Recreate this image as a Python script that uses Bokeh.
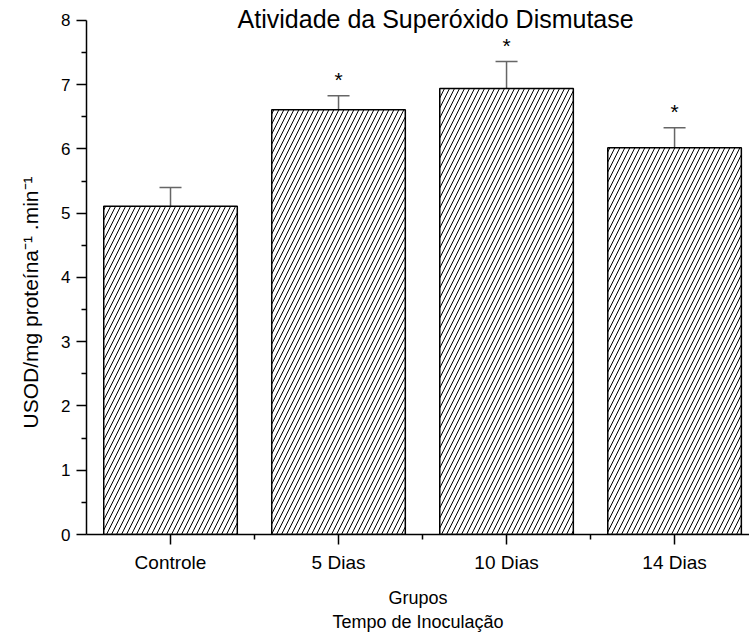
from bokeh.plotting import figure
from bokeh.models import Range1d, FixedTicker, Whisker, TeeHead, ColumnDataSource, Label
from bokeh.core.properties import value
from bokeh.embed import file_html
from bokeh.resources import INLINE

categories = ["Controle", "5 Dias", "10 Dias", "14 Dias"]
means = [5.11, 6.61, 6.94, 6.02]
errors = [0.29, 0.22, 0.42, 0.31]
significant = ["", "*", "*", "*"]

xs = [i + 1 for i in range(len(categories))]
src = ColumnDataSource(dict(
    x=xs, top=means,
    upper=[m + e for m, e in zip(means, errors)],
    star=significant,
    star_y=[m + e + 0.07 for m, e in zip(means, errors)],
))

FONT = "Liberation Sans"

p = figure(width=749, height=634, output_backend="svg", toolbar_location=None,
           x_range=Range1d(0.5, 4.446), y_range=Range1d(0, 8.311),
           min_border_left=86, min_border_right=0, min_border_top=0, min_border_bottom=100)
p.outline_line_color = None
p.grid.visible = False
p.background_fill_color = "white"

p.vbar(x="x", top="top", width=0.795, source=src, fill_color="white", line_color="black",
       line_width=1.5, hatch_pattern="/", hatch_color="black", hatch_scale=10, hatch_weight=1)

w = Whisker(base="x", lower="top", upper="upper", source=src, dimension="height",
            line_color="#666666", line_width=1.5,
            upper_head=TeeHead(size=22, line_color="#666666", line_width=1.5), lower_head=None)
p.add_layout(w)

p.text(x="x", y="star_y", text="star", source=src, text_align="center", text_baseline="bottom",
       text_font=value(FONT), text_font_size="21px", text_color="black")

p.add_layout(Label(x=2.578, y=8.03, text="Atividade da Superóxido Dismutase", text_align="center",
                   text_baseline="middle", text_font=FONT, text_font_size="25px", text_color="black"))

p.xaxis.ticker = FixedTicker(ticks=xs, minor_ticks=[1.5, 2.5, 3.5])
p.xaxis.major_label_overrides = {x: c for x, c in zip(xs, categories)}
p.xaxis.axis_label = "Grupos\nTempo de Inoculação"
p.yaxis.ticker = FixedTicker(ticks=list(range(0, 9)), minor_ticks=[i + 0.5 for i in range(8)])
p.yaxis.bounds = (0, 8)
p.yaxis.axis_label = "USOD/mg proteína⁻¹ .min⁻¹" + "\u00a0" * 12

for ax in (p.xaxis, p.yaxis):
    ax.axis_line_width = 1.5
    ax.major_tick_line_width = 1.5
    ax.minor_tick_line_width = 1.5
    ax.major_tick_out = 10
    ax.major_tick_in = 0
    ax.minor_tick_out = 5
    ax.minor_tick_in = 0
    ax.major_label_text_font = FONT
    ax.major_label_text_color = "black"
    ax.axis_label_text_font = FONT
    ax.axis_label_text_font_style = "normal"
    ax.axis_label_text_color = "black"

p.xaxis.major_label_text_font_size = "19px"
p.yaxis.major_label_text_font_size = "17px"
p.xaxis.axis_label_text_font_size = "18px"
p.xaxis.axis_label_standoff = 12
p.yaxis.axis_label_text_font_size = "21px"
p.yaxis.axis_label_standoff = 16
p.yaxis.major_label_standoff = 6
p.xaxis.major_label_standoff = 7

open("out.html", "w").write(file_html(p, INLINE))
